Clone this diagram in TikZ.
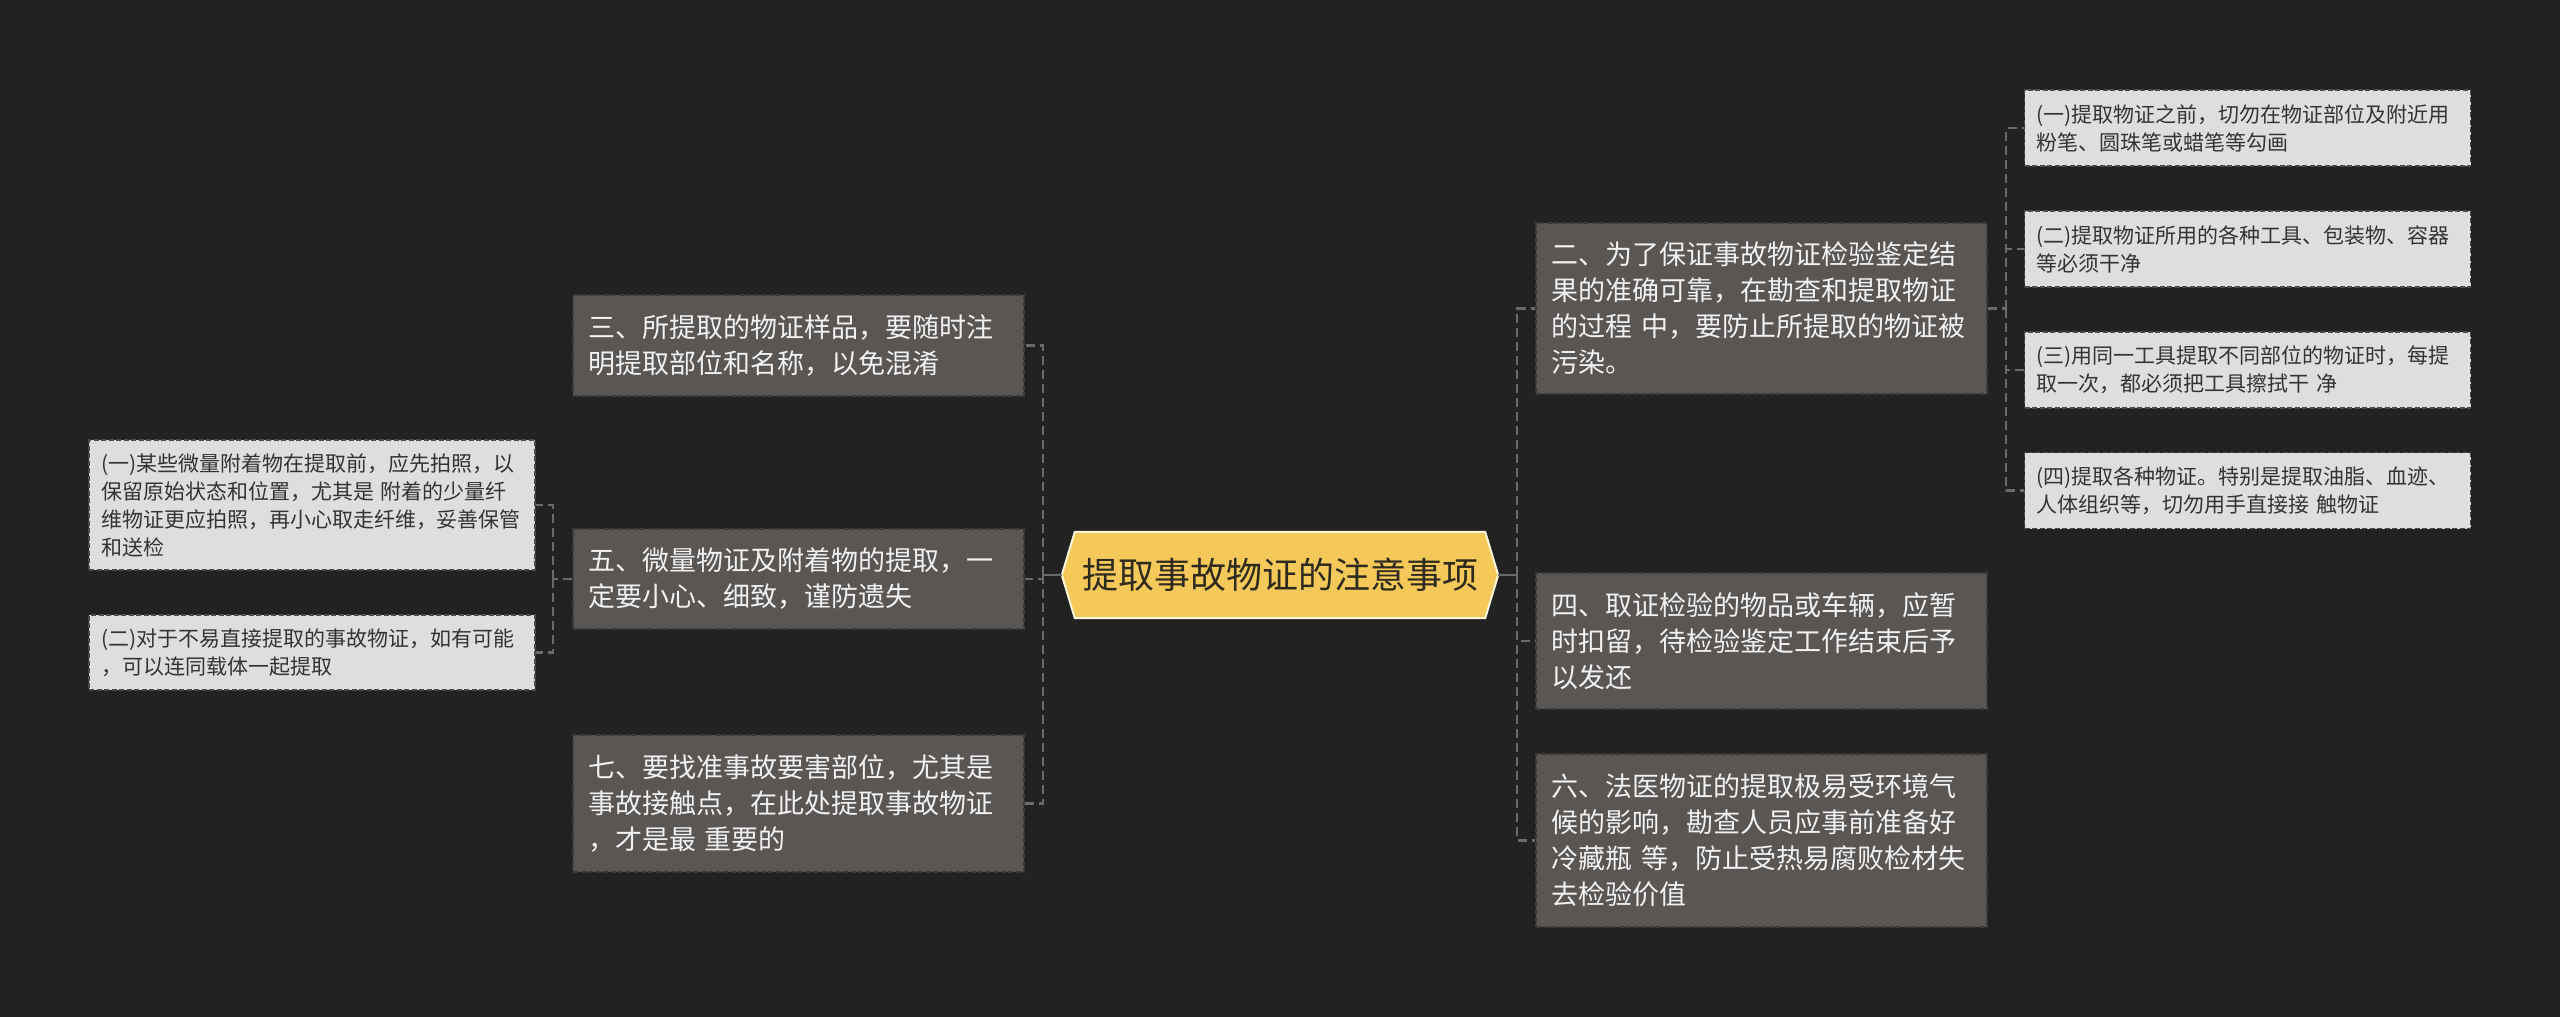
\documentclass[tikz,border=0pt]{standalone}
\usepackage{fontspec}
\setmainfont{Noto Sans CJK SC}
\usetikzlibrary{backgrounds}

\definecolor{bgcol}{HTML}{222222}
\definecolor{rootcol}{HTML}{F4C95A}
\definecolor{rootedge}{HTML}{FFF6DC}
\definecolor{roottext}{HTML}{2E2A1E}
\definecolor{boxcol}{HTML}{595654}
\definecolor{boxedge}{HTML}{3C3A39}
\definecolor{subcol}{HTML}{DEDEDE}
\definecolor{subedge}{HTML}{4A4A4A}
\definecolor{subtext}{HTML}{333333}
\definecolor{linkcol}{HTML}{6A6A6A}

\begin{document}
\begin{tikzpicture}[x = 1pt, y = -1pt,
  root/.style = {rectangle, minimum width=436pt, minimum height=86pt,
    inner sep=0pt, text=roottext, font=\fontsize{36}{40}\selectfont},
  lvlone/.style = {rectangle, fill=boxcol, draw=boxedge, line width=1.5pt,
    dash pattern=on 5pt off 2.5pt, text=white!95!black,
    font=\fontsize{27}{36}\selectfont, text width=421pt, align=left,
    inner xsep=15pt, inner ysep=0pt},
  lvltwo/.style = {rectangle, fill=subcol, draw=subedge, line width=1.5pt,
    dash pattern=on 5pt off 2.5pt, text=subtext,
    font=\fontsize{21}{28}\selectfont, text width=422pt, align=left,
    inner xsep=12pt, inner ysep=0pt},
  link/.style = {draw=linkcol, line width=2.5pt, dash pattern=on 9pt off 5pt},
  trunk/.style = {draw=linkcol, line width=2.5pt}]

  % column positions
  \def\lone{798.5}
  \def\ltwo{312}
  \def\rone{1761.5}
  \def\rtwo{2247.5}
  \def\tip{13pt}

  % background
  \begin{scope}[on background layer]
  \fill[bgcol] (0,0) rectangle (2560,1017);
  \end{scope}
  \useasboundingbox (0,0) rectangle (2560,1017);

  % root
  \node[root] (root) at (1280,575) {提取事故物证的注意事项};
  \begin{scope}[on background layer]
  \filldraw[fill=rootcol, draw=rootedge, line width=2pt, line join=miter]
  (root.west) -- ([xshift=\tip]root.north west) -- ([xshift=-\tip]root.north east)
  -- (root.east) -- ([xshift=-\tip]root.south east) -- ([xshift=\tip]root.south west)
  -- cycle;
  \end{scope}

  % left branches
  \node[lvlone, minimum height=101pt] (n3) at (\lone,345.5)
  {三、所提取的物证样品，要随时注\\明提取部位和名称，以免混淆};
  \node[lvlone, minimum height=100pt] (n5) at (\lone,579)
  {五、微量物证及附着物的提取，一\\定要小心、细致，谨防遗失};
  \node[lvlone, minimum height=137pt] (n7) at (\lone,803.5)
  {七、要找准事故要害部位，尤其是\\事故接触点，在此处提取事故物证\\，才是最 重要的};

  \node[lvltwo, minimum height=130pt] (n5a) at (\ltwo,505)
  {(一)某些微量附着物在提取前，应先拍照，以\\保留原始状态和位置，尤其是 附着的少量纤\\维物证更应拍照，再小心取走纤维，妥善保管\\和送检};
  \node[lvltwo, minimum height=75pt] (n5b) at (\ltwo,652.5)
  {(二)对于不易直接提取的事故物证，如有可能\\，可以连同载体一起提取};

  % right branches
  \node[lvlone, minimum height=171pt] (n2) at (\rone,308.5)
  {二、为了保证事故物证检验鉴定结\\果的准确可靠，在勘查和提取物证\\的过程 中，要防止所提取的物证被\\污染。};
  \node[lvlone, minimum height=136pt] (n4) at (\rone,641)
  {四、取证检验的物品或车辆，应暂\\时扣留，待检验鉴定工作结束后予\\以发还};
  \node[lvlone, minimum height=173pt] (n6) at (\rone,840.5)
  {六、法医物证的提取极易受环境气\\候的影响，勘查人员应事前准备好\\冷藏瓶 等，防止受热易腐败检材失\\去检验价值};

  \foreach \n/\y/\t in {
    a/128/{(一)提取物证之前，切勿在物证部位及附近用\\粉笔、圆珠笔或蜡笔等勾画},
    b/249/{(二)提取物证所用的各种工具、包装物、容器\\等必须干净},
    c/370/{(三)用同一工具提取不同部位的物证时，每提\\取一次，都必须把工具擦拭干 净},
    d/490.5/{(四)提取各种物证。特别是提取油脂、血迹、\\人体组织等，切勿用手直接接 触物证}}
  \node[lvltwo, minimum height=76pt] (n2\n) at (\rtwo,\y) {\t};

  % junctions
  \coordinate (lj) at (1043,575);
  \coordinate (lsj) at (553,579);
  \coordinate (rj) at (1517,575);
  \coordinate (rsj) at (2006,308.5);

  % connectors
  \draw[trunk] (root.west) -- (lj);
  \draw[trunk] (root.east) -- (rj);
  \foreach \n in {n3,n5,n7}
  \draw[link] (lj) |- (\n.east);
  \foreach \n in {n2,n4,n6}
  \draw[link] (rj) |- (\n.west);

  \draw[link] (n5.west) -- (lsj);
  \foreach \n in {n5a,n5b}
  \draw[link] (lsj) |- (\n.east);

  \draw[link] (n2.east) -- (rsj);
  \foreach \n in {a,b,c,d}
  \draw[link] (rsj) |- (n2\n.west);

\end{tikzpicture}
\end{document}
